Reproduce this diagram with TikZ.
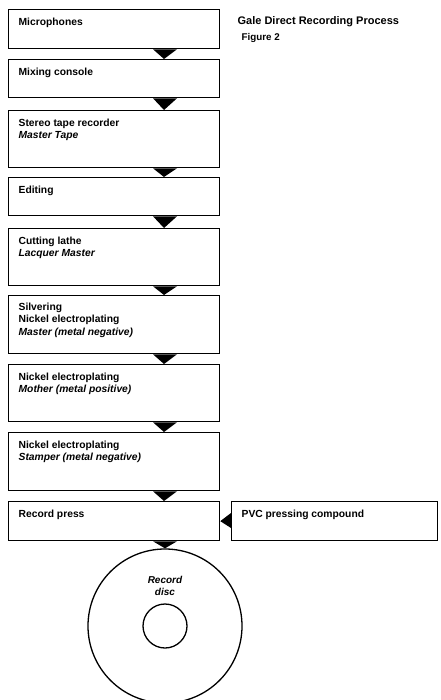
\documentclass[tikz,border=0pt]{standalone}
\usepackage{fontspec}
\setmainfont{Liberation Sans}
\usetikzlibrary{positioning,calc}

\tikzset{every picture/.style={line width=1.3pt}}

\begin{document}
\begin{tikzpicture}[x=1pt,y=1pt,yscale=-1,
		stage/.style={draw, minimum width=211, anchor=north west, inner sep=0pt},
		txt/.style={font=\bfseries\fontsize{10.3}{12.5}\selectfont, align=left, inner sep=0pt, anchor=north west},
		feed/.style={fill=black, draw=none}]
		\useasboundingbox (0,0) rectangle (440,700); %page of 440 x 700

		%process boxes
		\node [stage, minimum height=39] (mic) at (8,9) {};
		\node [stage, minimum height=38] (mix) at (8,59) {};
		\node [stage, minimum height=57] (tape) at (8,110) {};
		\node [stage, minimum height=38] (edit) at (8,177) {};
		\node [stage, minimum height=57] (lathe) at (8,228) {};
		\node [stage, minimum height=58] (silver) at (8,295) {};
		\node [stage, minimum height=57] (mother) at (8,364) {};
		\node [stage, minimum height=58] (stamper) at (8,432) {};
		\node [stage, minimum height=39] (press) at (8,501) {};
		\node [stage, minimum width=206, minimum height=39] (pvc) at (231,501) {};

		%disc
		\node [draw, circle, minimum size=154, inner sep=0pt] (disc) at (165,626) {};
		\node [draw, circle, minimum size=44, inner sep=0pt] (hole) at (disc.center) {};

		%feed triangles
		\foreach \a/\b in {mic/mix, mix/tape, tape/edit, edit/lathe, lathe/silver, silver/mother, mother/stamper, stamper/press}
			\fill [feed] ($(\a.south west)+(145,0)$) -- ++(24,0) -- ($(\b.north west)+(156,0)$) -- cycle;
		\fill [feed] ($(press.south west)+(145,0)$) -- ++(24,0) -- (disc.north) -- cycle;
		\fill [feed] ($(pvc.north west)+(0,12)$) -- ($(pvc.north west)+(0,27)$) -- (press.east) -- cycle;

		%labels
		\node [txt, below right=8pt and 10pt of mic.north west] (micT) {Microphones};
		\node [txt, below right=8pt and 10pt of mix.north west] (mixT) {Mixing console};
		\node [txt, below right=8pt and 10pt of tape.north west] (tapeT) {Stereo tape recorder\\\itshape Master Tape};
		\node [txt, below right=8pt and 10pt of edit.north west] (editT) {Editing};
		\node [txt, below right=8pt and 10pt of lathe.north west] (latheT) {Cutting lathe\\\itshape Lacquer Master};
		\node [txt, below right=7pt and 10pt of silver.north west] (silverT) {Silvering\\Nickel electroplating\\\itshape Master (metal negative)};
		\node [txt, below right=8pt and 10pt of mother.north west] (motherT) {Nickel electroplating\\\itshape Mother (metal positive)};
		\node [txt, below right=8pt and 10pt of stamper.north west] (stamperT) {Nickel electroplating\\\itshape Stamper (metal negative)};
		\node [txt, below right=8pt and 10pt of press.north west] (pressT) {Record press};
		\node [txt, below right=8pt and 10pt of pvc.north west] (pvcT) {PVC pressing compound};
		\node [txt, align=center, anchor=north, font=\bfseries\itshape\fontsize{10}{11.5}\selectfont] (discT) at (165,576) {Record\\disc};

		\node [txt, font=\bfseries\fontsize{11}{13}\selectfont] (title) at (237,16) {Gale Direct Recording Process};
		\node [txt, font=\bfseries\fontsize{9.8}{12}\selectfont] (fig) at (241,33) {Figure 2};
\end{tikzpicture}
\end{document}
